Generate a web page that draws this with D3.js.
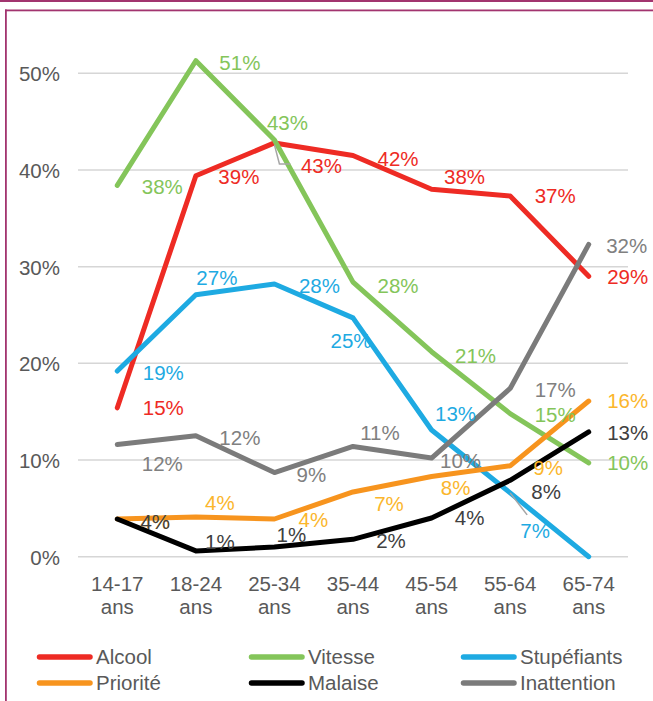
<!DOCTYPE html>
<html><head><meta charset="utf-8">
<script src="https://cdn.jsdelivr.net/npm/d3@7"></script>
<style>
html,body{margin:0;padding:0;background:#fff;}
svg{display:block;font-family:"Liberation Sans",Arial,sans-serif;}
</style></head>
<body><svg id="c" width="653" height="701"></svg>
<script>
// ---- data ----
const categories = ["14-17 ans","18-24 ans","25-34 ans","35-44 ans","45-54 ans","55-64 ans","65-74 ans"];
const seriesNames = ["Alcool","Vitesse","Stupéfiants","Priorité","Malaise","Inattention"];
const alcool      = [15.4, 39.4, 42.8, 41.5, 38.0, 37.3, 29.0];
const vitesse     = [38.4, 51.3, 43.1, 28.4, 21.2, 14.8, 9.7];
const stupefiants = [19.2, 27.1, 28.2, 24.7, 13.1, 6.6, 0.0];
const priorite    = [3.9, 4.1, 3.9, 6.7, 8.3, 9.4, 16.1];
const malaise     = [3.9, 0.6, 1.0, 1.8, 4.0, 7.9, 12.9];
const inattention = [11.6, 12.5, 8.7, 11.4, 10.2, 17.4, 32.3];
const alcoolLabels      = ["15%","39%","43%","42%","38%","37%","29%"];
const vitesseLabels     = ["38%","51%","43%","28%","21%","15%","10%"];
const stupefiantsLabels = ["19%","27%","28%","25%","13%","7%","0%"];
const prioriteLabels    = ["4%","4%","4%","7%","8%","9%","16%"];
const malaiseLabels     = ["4%","1%","1%","2%","4%","8%","13%"];
const inattentionLabels = ["12%","12%","9%","11%","10%","17%","32%"];
const yTicks = [0, 10, 20, 30, 40, 50];

// ---- styles / layout (not data) ----
const lineColors  = ["#ee2b24","#84c55a","#1eaae2","#f7941e","#000000","#7b7b7b"];
const labelColors = ["#ee2b24","#84c55a","#1eaae2","#fbb62c","#404040","#808080"];
// label offsets [dx, dy] from the point (text centre)
const labelOffsets = [
  [[46,0],[43,1],[47,23],[45,3],[33,-13],[45,0],[39,0]],
  [[45,1],[44,2],[13,-17],[45,3],[44,4],[45,1],[39,0]],
  [[46,2],[21,-17.5],[45,2],[-2,23],[24,-16],[25,38],null],
  [[38,2.5],[24,-14],[39,1],[36,12],[24,11],[38,1.5],[39,0]],
  [[38,2.5],[24,-9.5],[17,-12],[38,1.5],[38,0],[36,11],[39,1]],
  [[45,19],[44,2],[37,2],[27,-13.5],[29,2.5],[45,1],[38,1]]
];
// leader lines: [seriesIndex, pointIndex, path offsets relative to point]
const leaders = [
  [0, 2, [[0,2],[5,21],[16,21]]],
  [2, 5, [[0,0],[17,22]]]
];

const values = [alcool, vitesse, stupefiants, priorite, malaise, inattention];
const labels = [alcoolLabels, vitesseLabels, stupefiantsLabels, prioriteLabels, malaiseLabels, inattentionLabels];

const svg = d3.select("#c");
const FS = 20.5;

// frame
const frameColor = "#a2346f";
svg.append("rect").attr("x",0).attr("y",0).attr("width",653).attr("height",2).attr("fill",frameColor);
svg.append("rect").attr("x",5).attr("y",9.5).attr("width",648).attr("height",1.8).attr("fill",frameColor);
svg.append("rect").attr("x",5).attr("y",9.5).attr("width",1.8).attr("height",692).attr("fill",frameColor);

const x = d3.scaleBand().domain(categories).range([78, 628]);
const y = d3.scaleLinear().domain([0, 50]).range([556.7, 73.3]);
const px = c => x(c) + x.bandwidth()/2;

// grid
svg.append("g").selectAll("line").data(yTicks).join("line")
  .attr("x1",78).attr("x2",628)
  .attr("y1",d=>y(d)).attr("y2",d=>y(d))
  .attr("stroke","#d6d6d6").attr("stroke-width",1.5);

// y axis labels
const yAxis = d3.axisLeft(y).tickValues(yTicks).tickFormat(d=>d+"%").tickSize(0).tickPadding(0);
const gy = svg.append("g").attr("transform","translate(60,0)").call(yAxis);
gy.select(".domain").remove();
gy.selectAll("text").attr("font-size",FS).attr("fill","#595959")
  .attr("font-family","Liberation Sans, Arial, sans-serif").attr("dy","0.36em");

// x axis labels
const xAxis = d3.axisBottom(x).tickSize(0).tickFormat("");
const gx = svg.append("g").attr("transform","translate(0,556.7)").call(xAxis);
gx.select(".domain").remove();
gx.selectAll(".tick").each(function(d){
  const parts = d.split(" ");
  const t = d3.select(this).append("text").attr("fill","#595959").attr("font-size",FS)
    .attr("font-family","Liberation Sans, Arial, sans-serif").attr("text-anchor","middle");
  t.append("tspan").attr("x",0).attr("y",34).text(parts[0]);
  t.append("tspan").attr("x",0).attr("y",57).text(parts[1]);
});

// lines
const line = d3.line().x((d,i)=>px(categories[i])).y(d=>y(d));
values.forEach((vals,si)=>{
  svg.append("path").datum(vals).attr("d",line)
    .attr("fill","none").attr("stroke",lineColors[si]).attr("stroke-width",5)
    .attr("stroke-linejoin","round").attr("stroke-linecap","round");
});

// leader lines
leaders.forEach(([si,pi,pts])=>{
  const x0 = px(categories[pi]), y0 = y(values[si][pi]);
  svg.append("path").attr("d", d3.line()(pts.map(p=>[x0+p[0], y0+p[1]])))
    .attr("fill","none").attr("stroke","#a6a6a6").attr("stroke-width",1.5);
});

// data labels
values.forEach((vals,si)=>{
  vals.forEach((v,i)=>{
    const off = labelOffsets[si][i];
    if(!off) return;
    svg.append("text")
      .attr("x", px(categories[i]) + off[0])
      .attr("y", y(v) + off[1])
      .attr("dy","0.36em")
      .attr("text-anchor","middle")
      .attr("font-size",FS)
      .attr("fill",labelColors[si])
      .text(labels[si][i]);
  });
});

// legend
const legendCols = [37, 249, 461];
const legendRows = [657, 683];
seriesNames.forEach((n,i)=>{
  const lx = legendCols[i%3], ly = legendRows[Math.floor(i/3)];
  svg.append("line").attr("x1",lx+2.5).attr("x2",lx+53).attr("y1",ly).attr("y2",ly)
    .attr("stroke",lineColors[i]).attr("stroke-width",5.5).attr("stroke-linecap","round");
  svg.append("text").attr("x",lx+59).attr("y",ly).attr("dy","0.36em")
    .attr("font-size",FS).attr("fill","#595959").text(n);
});
</script></body></html>
